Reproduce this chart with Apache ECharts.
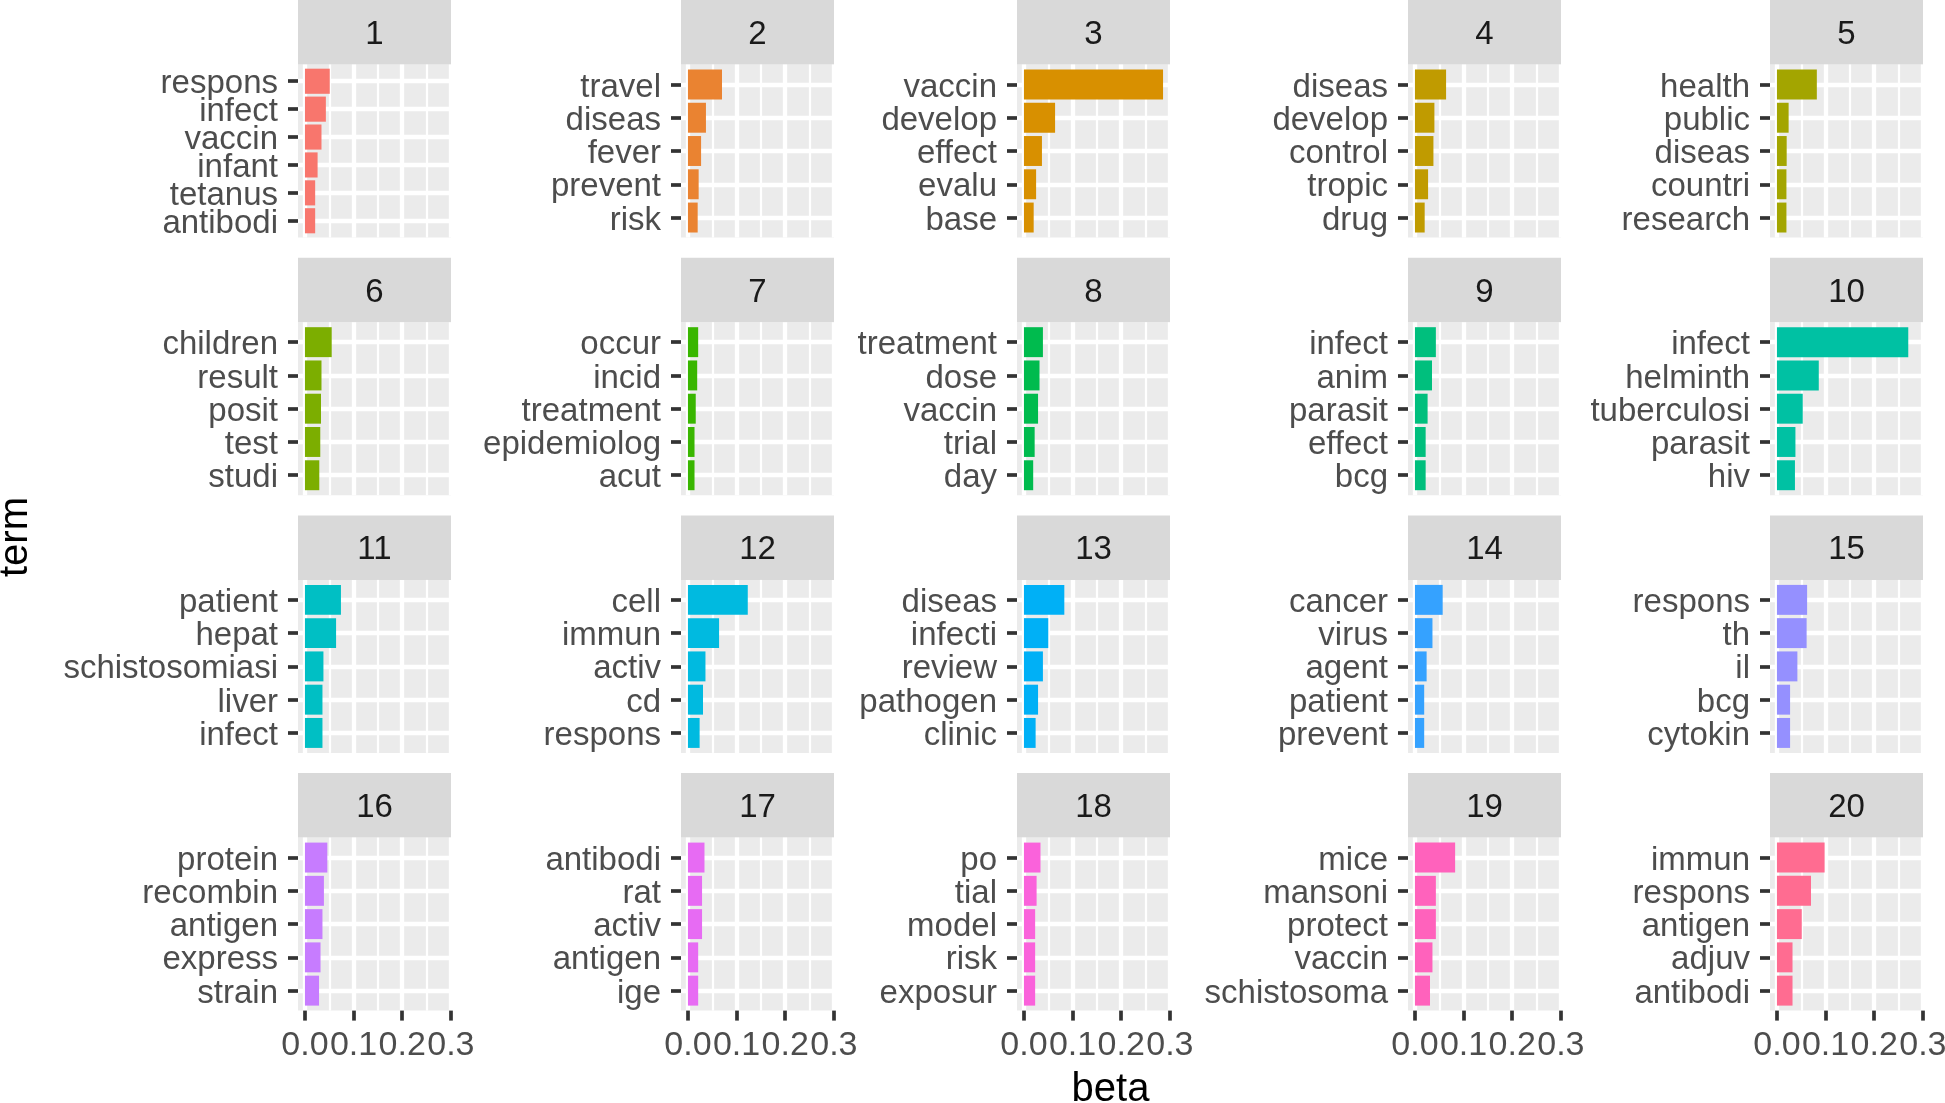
<!DOCTYPE html>
<html><head><meta charset="utf-8">
<script src="https://cdn.jsdelivr.net/npm/echarts@6/dist/echarts.min.js"></script>
<style>html,body{margin:0;padding:0;background:#fff}#c{width:1945px;height:1103px}</style>
</head><body><div id="c"></div>
<script>
// ---- data ----
const topicLabels = ['1','2','3','4','5','6','7','8','9','10','11','12','13','14','15','16','17','18','19','20'];
const topicColors = ['#F8766D','#EA8331','#D89000','#C09B00','#A3A500','#7CAE00','#39B600','#00BB4E','#00BF7D','#00C1A3',
                     '#00BFC4','#00BAE0','#00B0F6','#35A2FF','#9590FF','#C77CFF','#E76BF3','#FA62DB','#FF62BC','#FF6C91'];
const termsByTopic = [
  ['respons','infect','vaccin','infant','tetanus','antibodi'],
  ['travel','diseas','fever','prevent','risk'],
  ['vaccin','develop','effect','evalu','base'],
  ['diseas','develop','control','tropic','drug'],
  ['health','public','diseas','countri','research'],
  ['children','result','posit','test','studi'],
  ['occur','incid','treatment','epidemiolog','acut'],
  ['treatment','dose','vaccin','trial','day'],
  ['infect','anim','parasit','effect','bcg'],
  ['infect','helminth','tuberculosi','parasit','hiv'],
  ['patient','hepat','schistosomiasi','liver','infect'],
  ['cell','immun','activ','cd','respons'],
  ['diseas','infecti','review','pathogen','clinic'],
  ['cancer','virus','agent','patient','prevent'],
  ['respons','th','il','bcg','cytokin'],
  ['protein','recombin','antigen','express','strain'],
  ['antibodi','rat','activ','antigen','ige'],
  ['po','tial','model','risk','exposur'],
  ['mice','mansoni','protect','vaccin','schistosoma'],
  ['immun','respons','antigen','adjuv','antibodi']
];
const betaByTopic = [
  [0.051,0.043,0.034,0.026,0.021,0.021],
  [0.070,0.037,0.027,0.022,0.020],
  [0.286,0.064,0.037,0.025,0.020],
  [0.064,0.040,0.038,0.027,0.020],
  [0.082,0.024,0.020,0.0195,0.0195],
  [0.055,0.034,0.033,0.0315,0.0295],
  [0.021,0.019,0.016,0.0135,0.0135],
  [0.039,0.032,0.029,0.022,0.019],
  [0.043,0.035,0.026,0.022,0.022],
  [0.270,0.086,0.053,0.038,0.037],
  [0.074,0.064,0.038,0.036,0.036],
  [0.123,0.064,0.036,0.031,0.024],
  [0.083,0.050,0.039,0.029,0.024],
  [0.057,0.036,0.024,0.019,0.019],
  [0.062,0.061,0.042,0.027,0.027],
  [0.046,0.039,0.036,0.032,0.029],
  [0.034,0.029,0.029,0.021,0.021],
  [0.034,0.026,0.023,0.023,0.023],
  [0.0826,0.043,0.043,0.036,0.031],
  [0.098,0.070,0.051,0.032,0.032]
];
const xTickValues = [0, 0.1, 0.2, 0.3];
const xMinorValues = [0.05, 0.15, 0.25];

// ---- layout ----
const colLeft = [298, 681, 1017, 1408, 1770];
const rowTop = [0, 257.7, 515.4, 773.1];
const panelW = 153, stripH = 64.5, panelH = 173;
const FONT = '"Liberation Sans", Arial, Helvetica, sans-serif';

const chart = echarts.init(document.getElementById('c'), null, {renderer: 'canvas'});
const maxBeta = Math.max(...betaByTopic.flat());
const xMin = -0.05 * maxBeta, xMax = 1.05 * maxBeta;

function yAxisFor(k, terms, vals) {
  const n = terms.length;
  return {type: 'value', gridIndex: k, position: 'left', offset: 0, inverse: true, min: -0.6, max: n - 1 + 0.6,
    axisLine: {show: false, onZero: false},
    axisTick: {show: true, customValues: vals, length: 10, lineStyle: {color: '#333333', width: 3.7}},
    axisLabel: {show: true, customValues: vals, formatter: v => terms[Math.round(v)], margin: 20,
      verticalAlign: 'top', lineHeight: 6,
      fontSize: 33, color: '#4D4D4D', fontFamily: FONT, hideOverlap: false},
    splitLine: {show: true, lineStyle: {color: '#FFFFFF', width: 4.3}}};
}

const grids = [], xAxes = [], yAxes = [], series = [], graphics = [];
topicLabels.forEach((lab, k) => {
  const r = Math.floor(k / 5), c = k % 5;
  const left = colLeft[c], top = rowTop[r];
  const terms = termsByTopic[k], betas = betaByTopic[k];
  const evenIdx = terms.map((t, i) => i).filter(i => i % 2 === 0);
  const oddIdx = terms.map((t, i) => i).filter(i => i % 2 === 1);
  const bottom = r === 3;
  graphics.push({type: 'rect', shape: {x: left, y: top, width: panelW, height: stripH}, style: {fill: '#D9D9D9'}, silent: true});
  graphics.push({type: 'text', x: left + panelW / 2, y: top + stripH / 2 + 2.5,
    style: {text: lab, fill: '#1A1A1A', font: '33px ' + FONT, align: 'center', verticalAlign: 'middle', textAlign: 'center', textVerticalAlign: 'middle'}, silent: true});
  grids.push({left: left, top: top + stripH, width: panelW, height: panelH, show: true,
    backgroundColor: '#EBEBEB', borderWidth: 0, containLabel: false, outerBoundsMode: 'none'});
  xAxes.push({type: 'value', gridIndex: k, position: 'bottom', min: xMin, max: xMax,
    axisLine: {show: false, onZero: false},
    axisTick: {show: bottom, customValues: xTickValues, length: 10, lineStyle: {color: '#333333', width: 3.7}},
    axisLabel: {show: bottom, customValues: xTickValues, formatter: v => v.toFixed(1), margin: 18,
      fontSize: 34, color: '#4D4D4D', fontFamily: FONT, hideOverlap: false, showMinLabel: true, showMaxLabel: true},
    splitLine: {show: true, lineStyle: {color: '#FFFFFF', width: 4.3}}});
  xAxes.push({type: 'value', gridIndex: k, position: 'top', min: xMin, max: xMax,
    axisLine: {show: false, onZero: false},
    axisTick: {show: false, customValues: xMinorValues},
    axisLabel: {show: false, customValues: xMinorValues},
    splitLine: {show: true, lineStyle: {color: '#FFFFFF', width: 2.2}}});
  yAxes.push(yAxisFor(k, terms, evenIdx));
  yAxes.push(yAxisFor(k, terms, oddIdx));
  const color = topicColors[k];
  series.push({type: 'custom', xAxisIndex: 2 * k, yAxisIndex: 2 * k,
    data: betas.map((b, i) => [b, i]),
    encode: {x: 0, y: 1},
    renderItem: (params, api) => {
      const v = api.value(0), i = api.value(1);
      const p0 = api.coord([0, i]), p1 = api.coord([v, i]);
      const h = api.size([0, 1])[1] * 0.9;
      return {type: 'rect', shape: {x: p0[0], y: p0[1] - h / 2, width: p1[0] - p0[0], height: h},
        style: {fill: color}};
    }});
});
graphics.push({type: 'text', x: 1110.5, y: 1090,
  style: {text: 'beta', fill: '#000000', font: '40px ' + FONT, align: 'center', verticalAlign: 'middle', textAlign: 'center', textVerticalAlign: 'middle'}});
graphics.push({type: 'text', x: 16, y: 537, rotation: Math.PI / 2,
  style: {text: 'term', fill: '#000000', font: '40px ' + FONT, align: 'center', verticalAlign: 'middle', textAlign: 'center', textVerticalAlign: 'middle'}});

chart.setOption({
  animation: false,
  backgroundColor: '#FFFFFF',
  grid: grids, xAxis: xAxes, yAxis: yAxes, series: series,
  graphic: {elements: graphics}
});
</script></body></html>
